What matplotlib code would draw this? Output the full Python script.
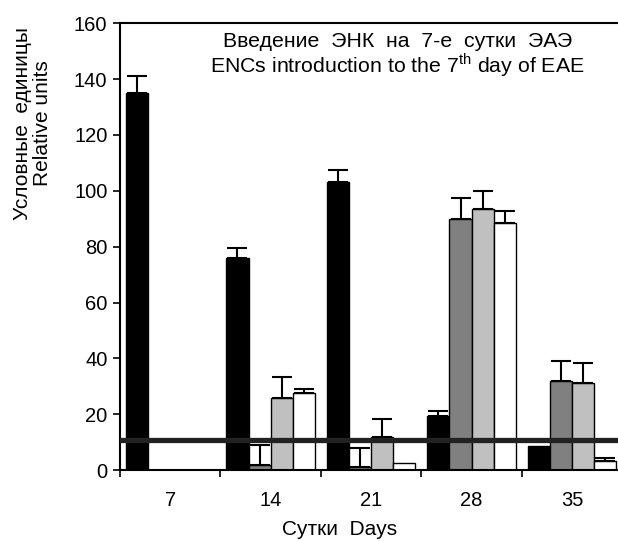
import matplotlib
matplotlib.use("Agg")
import matplotlib.pyplot as plt
import numpy as np

plt.rcParams["font.family"] = ["Liberation Sans", "DejaVu Sans"]
plt.rcParams["mathtext.fontset"] = "custom"
plt.rcParams["mathtext.rm"] = "Liberation Sans"

# data
days = ["7", "14", "21", "28", "35"]
black_vals = [135, 76, 103, 19.5, 8.6]
black_err = [6, 3.5, 4.5, 1.5, 0]
dgray_vals = [0, 2, 1, 90, 32]
dgray_err = [0, 7, 7, 7.5, 7]
lgray_vals = [0, 26, 11.7, 93.5, 31.2]
lgray_err = [0, 7.5, 6.5, 6.5, 7.3]
white_vals = [0, 27.5, 2.6, 88.6, 3.3]
white_err = [0, 1.5, 0, 4.2, 0.9]
baseline = 10.8

series = [
    (black_vals, black_err, "#000000"),
    (dgray_vals, dgray_err, "#808080"),
    (lgray_vals, lgray_err, "#c0c0c0"),
    (white_vals, white_err, "#ffffff"),
]

FS = 14.5

fig = plt.figure(figsize=(6.18, 5.41), dpi=100)
ax = fig.add_axes([0.194, 0.131, 0.813, 0.826])

x = np.arange(len(days))
w = 0.22
for i, (vals, err, col) in enumerate(series):
    pos = x + (i - 1.5) * w
    vals = np.array(vals)
    err = np.array(err)
    mask = vals > 0
    ax.bar(pos[mask], vals[mask], width=w, color=col, edgecolor="black",
           linewidth=1.0, zorder=2)
    emask = err > 0
    ax.errorbar(pos[emask], vals[emask], yerr=[np.zeros(emask.sum()), err[emask]],
                fmt="none", ecolor="black", elinewidth=1.5, capsize=7,
                capthick=1.5, zorder=3)

ax.axhline(baseline, color="#222222", linewidth=3.8, zorder=4)

ax.set_xlim(-0.5, 4.5)
ax.set_ylim(0, 160)
ax.set_yticks(np.arange(0, 161, 20))
ax.set_xticks(x)
ax.set_xticklabels(days)
ax.set_xticks(np.arange(-0.5, 5, 1), minor=True)
ax.tick_params(axis="x", which="major", length=0, labelsize=FS, pad=15)
ax.tick_params(axis="x", which="minor", length=5, width=1.2, direction="out")
ax.tick_params(axis="y", length=5, width=1.2, labelsize=FS, pad=4)

for s in ["left", "bottom", "top"]:
    ax.spines[s].set_linewidth(1.5)
ax.spines["right"].set_visible(False)

ax.set_ylabel("Условные  единицы\nRelative units", fontsize=15, linespacing=1.05)
ax.yaxis.set_label_coords(-0.135, 0.776)
ax.set_xlabel("Сутки  Days", fontsize=15)
ax.xaxis.set_label_coords(0.438, -0.112)

ax.text(0.553, 0.98,
        "Введение  ЭНК  на  7-е  сутки  ЭАЭ\nENCs introduction to the 7$^{\\rm th}$ day of EAE",
        transform=ax.transAxes, ha="center", va="top", fontsize=15.3,
        linespacing=1.0)

fig.savefig("out.png", dpi=100)
